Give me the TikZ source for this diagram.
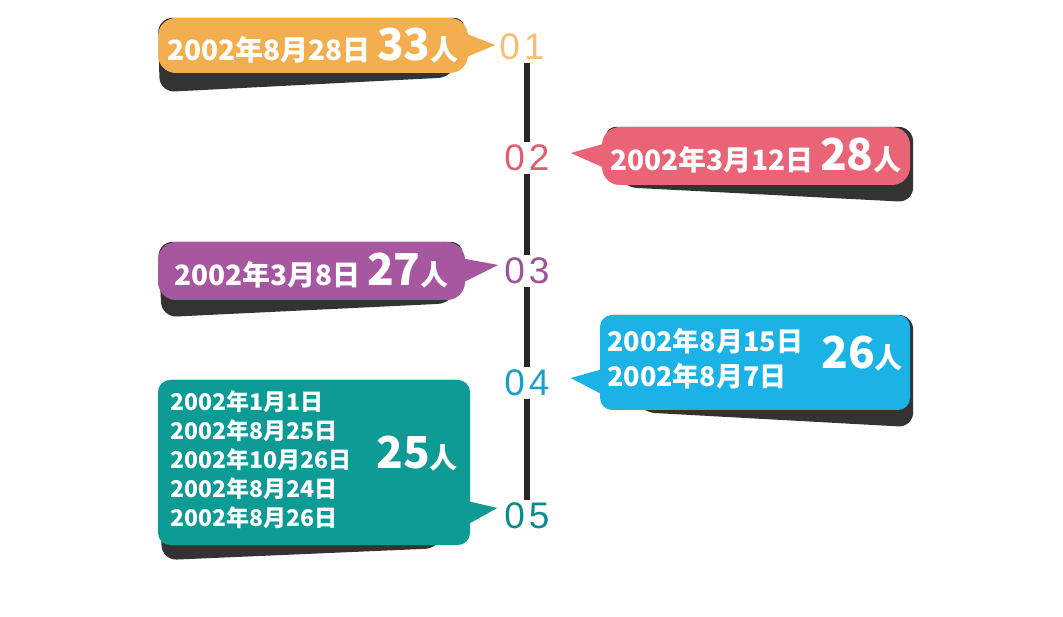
\documentclass[tikz,border=0pt]{standalone}
\usepackage{fontspec}
\newfontfamily\cjk{Noto Sans CJK SC}
\newfontfamily\numfont{Liberation Sans}
\usetikzlibrary{calc,backgrounds}
\definecolor{orangebox}{HTML}{F2AE4F}
\definecolor{redbox}{HTML}{E86476}
\definecolor{purplebox}{HTML}{A756A0}
\definecolor{bluebox}{HTML}{1BB2E6}
\definecolor{tealbox}{HTML}{0E9B96}
\newcommand\bignum[1]{{\fontsize{44}{44}\selectfont #1}}
\newcommand\twodig[2]{#1\hspace{4pt}#2}
\begin{document}
\begin{tikzpicture}[x=1pt,y=-1pt,
    box/.style={rounded corners=18pt, inner sep=0pt, text=white,
      font=\cjk\bfseries\fontsize{28}{35}\selectfont},
    num/.style={font=\numfont\fontsize{37}{37}\selectfont, inner sep=3pt},
    shade/.style={fill=black!80, rounded corners=15pt},
    stem/.style={line width=6pt, black!85}]
  \useasboundingbox (0,0) rectangle (1063,617);
  % Numbers on the time line
  \node[num, text=orangebox!80] (n1) at (522,47) {\twodig01};
  \node[num, text=redbox!95!black] (n2) at (527,158) {\twodig02};
  \node[num, text=purplebox!95!black] (n3) at (527,271) {\twodig03};
  \node[num, text=bluebox!90!black] (n4) at (527,383) {\twodig04};
  \node[num, text=tealbox!90!black] (n5) at (527,516) {\twodig05};
  % Stem between the numbers
  \draw[stem] (n2.north |- n1.south) -- (n2.north);
  \draw[stem] (n2.south) -- (n3.north);
  \draw[stem] (n3.south) -- (n4.north);
  \draw[stem] (n4.south) -- (n5.north);
  % Boxes
  \node[box, fill=orangebox, minimum width=310, minimum height=55] (b1) at (313,45.5)
    {2002年8月28日 \bignum{33}人};
  \node[box, fill=redbox, minimum width=308, minimum height=58] (b2) at (756,156)
    {2002年3月12日 \bignum{28}人};
  \node[box, fill=purplebox, minimum width=307, minimum height=58] (b3) at (311.5,271)
    {2002年3月8日 \bignum{27}人};
  \node[box, fill=bluebox, rounded corners=12pt, minimum width=310, minimum height=95] (b4) at (755,362.5)
    {{\fontsize{27}{35}\selectfont\begin{tabular}{@{}l@{}}2002年8月15日\\2002年8月7日\end{tabular}}\hspace{18pt}\bignum{26}人};
  \node[box, fill=tealbox, rounded corners=12pt, minimum width=312, minimum height=165] (b5) at (314,462.5)
    {{\fontsize{23}{29}\selectfont\begin{tabular}{@{}l@{}}2002年1月1日\\2002年8月25日\\2002年10月26日\\2002年8月24日\\2002年8月26日\end{tabular}}\hspace{25pt}\bignum{25}人};
  % Pointer tips
  \coordinate (t1) at ($(n1.west)+(-1,-2)$);
  \coordinate (t2) at ($(n2.east)+(18,-5)$);
  \coordinate (t3) at ($(n3.west)+(-3,-6)$);
  \coordinate (t4) at ($(n4.east)+(18,-5)$);
  \coordinate (t5) at ($(n5.west)+(-4,-8)$);
  \fill[orangebox] ($(b1.east)+(-5,-13)$) -- (t1) -- ($(b1.east)+(-5,13)$) -- cycle;
  \fill[redbox] ($(b2.west)+(5,-13)$) -- (t2) -- ($(b2.west)+(5,13)$) -- cycle;
  \fill[purplebox] ($(b3.east)+(-5,-13)$) -- (t3) -- ($(b3.east)+(-5,13)$) -- cycle;
  \fill[bluebox] ($(b4.west)+(5,6)$) -- (t4) -- ($(b4.west)+(12,37)$) -- cycle;
  \fill[tealbox] ($(b5.east)+(-5,38)$) -- (t5) -- ($(b5.east)+(-8,65)$) -- cycle;
  % Shadows
  \begin{scope}[on background layer]
    \fill[shade] (b1.north west) -- ($(b1.south west)+(2,19)$) -- ($(b1.south east)+(-15,4)$) -- (b1.north east) -- cycle;
    \fill[shade] (b2.north west) -- ($(b2.south west)+(20,2)$) -- ($(b2.south east)+(3,17)$) -- ($(b2.north east)+(3,0)$) -- cycle;
    \fill[shade] (b3.north west) -- ($(b3.south west)+(4,17)$) -- ($(b3.south east)+(-12,3)$) -- (b3.north east) -- cycle;
    \fill[shade] (b4.north west) -- ($(b4.south west)+(40,2)$) -- ($(b4.south east)+(3,17)$) -- ($(b4.north east)+(3,0)$) -- cycle;
    \fill[shade] (b5.north west) -- ($(b5.south west)+(4,15)$) -- ($(b5.south east)+(-30,3)$) -- (b5.north east) -- cycle;
  \end{scope}
\end{tikzpicture}
\end{document}
